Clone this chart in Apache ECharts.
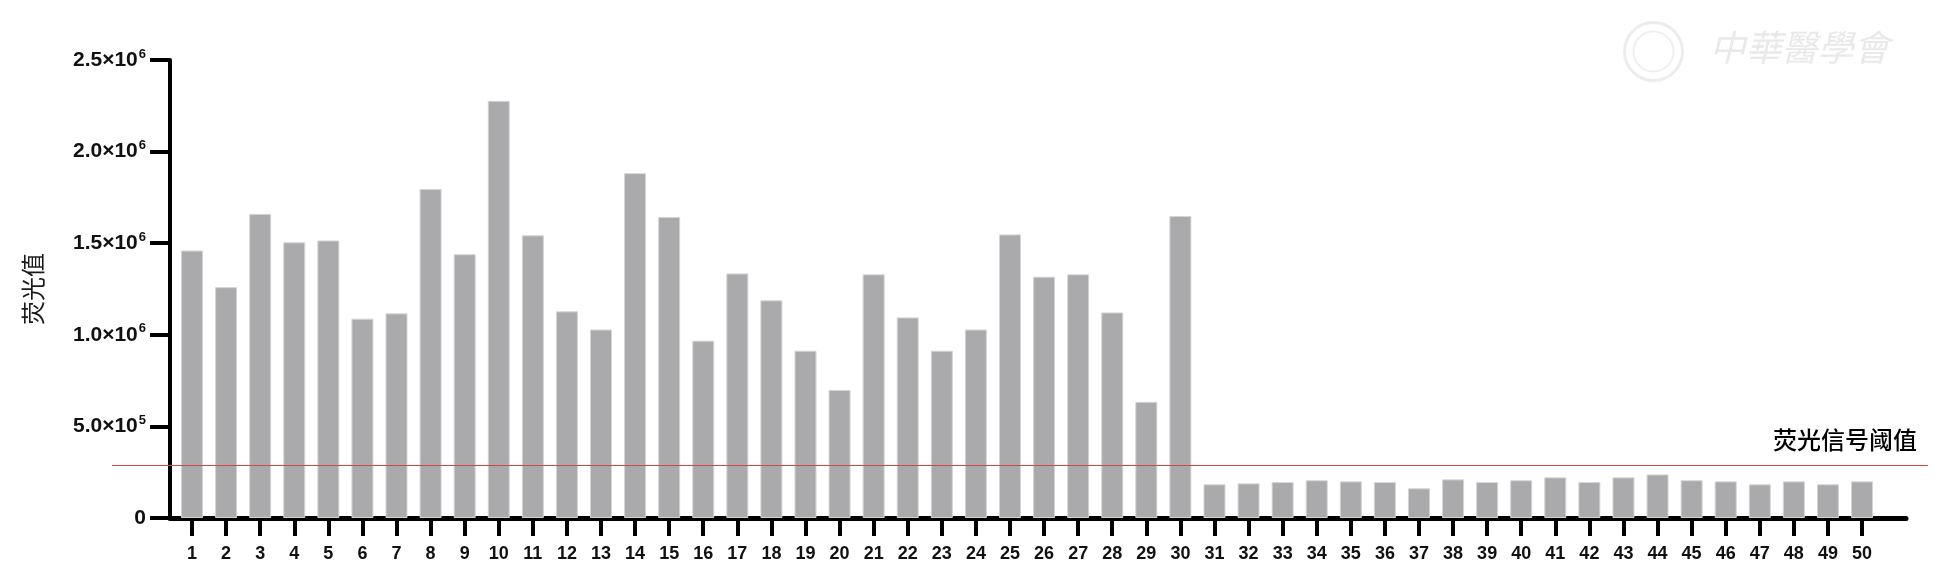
<!DOCTYPE html>
<html>
<head>
<meta charset="utf-8">
<script src="https://cdn.jsdelivr.net/npm/echarts@6/dist/echarts.min.js"></script>
<style>
html,body{margin:0;padding:0;background:#fff;}
#c{width:1944px;height:585px;}
</style>
</head>
<body>
<div id="c"></div>
<script>
const categories = [1,2,3,4,5,6,7,8,9,10,11,12,13,14,15,16,17,18,19,20,21,22,23,24,25,26,27,28,29,30,31,32,33,34,35,36,37,38,39,40,41,42,43,44,45,46,47,48,49,50];
const values = [1460000,1260000,1660000,1505000,1515000,1088000,1117000,1796000,1440000,2277000,
                1543000,1128000,1029000,1882000,1643000,968000,1335000,1188000,913000,699000,
                1330000,1095000,913000,1029000,1548000,1317000,1330000,1122000,634000,1648000,
                184000,189000,196000,206000,200000,196000,162000,211000,196000,206000,
                222000,196000,222000,238000,206000,200000,184000,200000,184000,200000];
const threshold = 286000;
const thresholdLabel = '荧光信号阈值';
const yTitle = '荧光值';
const yMin = 0, yMax = 2500000, yStep = 500000;

const latin = '"Liberation Sans", Arial, sans-serif';
const cjk = '"Noto Sans CJK SC", "Noto Sans", sans-serif';

function sciLabel(v) {
  if (v === 0) return '{b|0}';
  const e = Math.floor(Math.log10(v));
  const m = (v / Math.pow(10, e)).toFixed(1);
  return '{b|' + m + '×10}{s|' + e + '}';
}

const chart = echarts.init(document.getElementById('c'), null, {renderer: 'canvas'});
chart.setOption({
  backgroundColor: '#ffffff',
  animation: false,
  grid: [
    {left: 170, top: 60, width: 1736, height: 458, containLabel: false},
    {left: 112, top: 60, width: 1816, height: 458, containLabel: false}
  ],
  xAxis: [{
    type: 'value', gridIndex: 0,
    min: 0.354, max: 51.29,
    splitLine: {show: false},
    axisLine: {show: true, onZero: false, lineStyle: {color: '#000', width: 5}},
    axisTick: {show: true, length: 18, customValues: categories, lineStyle: {color: '#000', width: 4}},
    axisLabel: {show: true, customValues: categories, margin: 27, fontFamily: latin, fontWeight: 'bold', fontSize: 18, color: '#111'}
  }, {
    type: 'value', gridIndex: 1, min: 0, max: 1, show: false
  }],
  yAxis: [{
    type: 'value', gridIndex: 0,
    min: yMin, max: yMax, interval: yStep,
    name: yTitle, nameLocation: 'middle', nameGap: 125, nameRotate: 90,
    nameTextStyle: {fontFamily: cjk, fontSize: 24, color: '#1a1a1a'},
    splitLine: {show: false},
    axisLine: {show: true, onZero: false, lineStyle: {color: '#000', width: 4}},
    axisTick: {show: true, length: 20, lineStyle: {color: '#000', width: 4}},
    axisLabel: {
      margin: 24,
      formatter: sciLabel,
      rich: {
        b: {fontFamily: latin, fontWeight: 'bold', fontSize: 21, color: '#111'},
        s: {fontFamily: latin, fontWeight: 'bold', fontSize: 13, color: '#111', padding: [0, 0, 12, 1]}
      }
    }
  }, {
    type: 'value', gridIndex: 1, min: yMin, max: yMax, show: false
  }],
  series: [{
    type: 'bar',
    xAxisIndex: 0, yAxisIndex: 0,
    barWidth: 22,
    data: categories.map((c, i) => [c, values[i]]),
    itemStyle: {color: '#aaaaac', borderColor: '#d4d4d4', borderWidth: 1}
  }, {
    type: 'line',
    xAxisIndex: 1, yAxisIndex: 1,
    data: [],
    markLine: {
      silent: true,
      symbol: 'none',
      lineStyle: {color: '#d6453f', width: 1, type: 'solid'},
      label: {show: true, position: 'insideEndTop', formatter: thresholdLabel, fontFamily: cjk, fontSize: 24, fontWeight: 500, color: '#000', distance: [11, 14]},
      data: [{yAxis: threshold}]
    }
  }],
  graphic: [{
    type: 'group', left: 1622, top: 20, silent: true,
    children: [
      {type: 'circle', shape: {cx: 32, cy: 32, r: 29}, style: {fill: 'none', stroke: '#ececec', lineWidth: 3}},
      {type: 'circle', shape: {cx: 32, cy: 32, r: 20}, style: {fill: 'none', stroke: '#efefef', lineWidth: 2}},
      {type: 'text', x: 88, y: 10, style: {text: '中華醫學會', font: 'italic 36px "Noto Sans CJK TC"', fill: '#e9e9e9'}}
    ]
  }]
});
</script>
</body>
</html>
